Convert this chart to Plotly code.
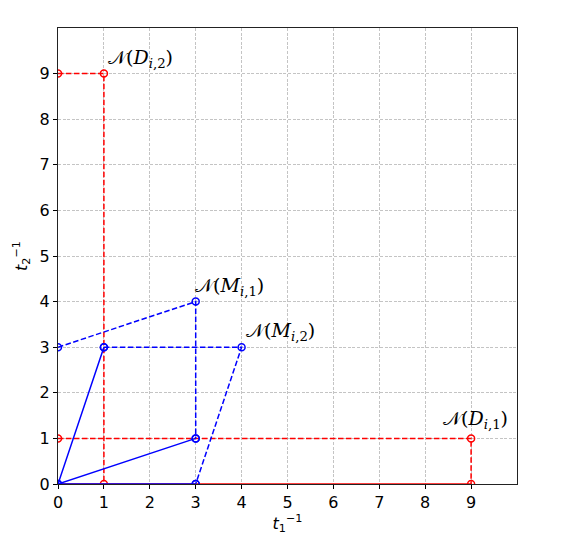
import plotly.graph_objects as go

# Red (D) construction: dashed guides
red_d2_x = [0, 1, 1]
red_d2_y = [9, 9, 0]
red_d1_x = [0, 9, 9]
red_d1_y = [1, 1, 0]
red_axis_x = [0, 9]
red_axis_y = [0, 0]

# Blue (M) construction
blue_solid_x = [1, 0, 3]
blue_solid_y = [3, 0, 1]
blue_axis_x = [0, 3]
blue_axis_y = [0, 0]
blue_m1_x = [0, 3, 3]
blue_m1_y = [3, 4, 1]
blue_m2_x = [1, 4, 3]
blue_m2_y = [3, 3, 0]

labels = ["𝒩(<i>D</i><sub><i>i</i>,2</sub>)", "𝒩(<i>M</i><sub><i>i</i>,1</sub>)",
          "𝒩(<i>M</i><sub><i>i</i>,2</sub>)", "𝒩(<i>D</i><sub><i>i</i>,1</sub>)"]
label_x = [1.05, 2.95, 4.05, 8.35]
label_y = [9.02, 4.02, 3.02, 1.1]

ticks = list(range(10))

RED = "#ff0000"
BLUE = "#0000ff"
DASH = "5.5px,2.5px"

fig = go.Figure()

def add(x, y, color, dash=None, markers=True):
    fig.add_trace(go.Scatter(
        x=x, y=y, mode="lines+markers" if markers else "lines",
        line=dict(color=color, width=1.5, dash=dash or "solid"),
        marker=dict(symbol="circle-open", size=7, color=color, line=dict(width=1.5, color=color)),
        showlegend=False, hoverinfo="skip", cliponaxis=True))

add(red_axis_x, red_axis_y, RED, markers=False)
add(red_d2_x, red_d2_y, RED, DASH)
add(red_d1_x, red_d1_y, RED, DASH)
add(blue_axis_x, blue_axis_y, BLUE, markers=True)
add(blue_solid_x, blue_solid_y, BLUE)
add(blue_m1_x, blue_m1_y, BLUE, DASH)
add(blue_m2_x, blue_m2_y, BLUE, DASH)

for t, x, y in zip(labels, label_x, label_y):
    fig.add_annotation(x=x, y=y, text=t, showarrow=False, xanchor="left", yanchor="bottom",
                       font=dict(family="DejaVu Serif", size=19, color="black"))

axis_common = dict(
    range=[0, 10], tickvals=ticks, ticktext=[str(t) for t in ticks],
    showgrid=True, gridcolor="#c4c4c4", gridwidth=0.8, griddash="3px,1.6px",
    showline=True, linecolor="#222222", linewidth=1, mirror=True,
    ticks="outside", ticklen=4, tickcolor="black", tickwidth=1,
    tickfont=dict(family="DejaVu Sans", size=16, color="black"),
    zeroline=False, layer="below traces",
)

fig.update_layout(
    width=574, height=542,
    margin=dict(l=50, r=65, t=20, b=66),
    plot_bgcolor="white", paper_bgcolor="white",
    xaxis=dict(axis_common, title=dict(text="<i>t</i><sub>1</sub><sup>−1</sup>",
                                       font=dict(family="DejaVu Sans", size=16, color="black"), standoff=6)),
    yaxis=dict(axis_common, title=dict(text="<i>t</i><sub>2</sub><sup>−1</sup>",
                                       font=dict(family="DejaVu Sans", size=16, color="black"), standoff=8)),
)

fig.write_html("out.html")
